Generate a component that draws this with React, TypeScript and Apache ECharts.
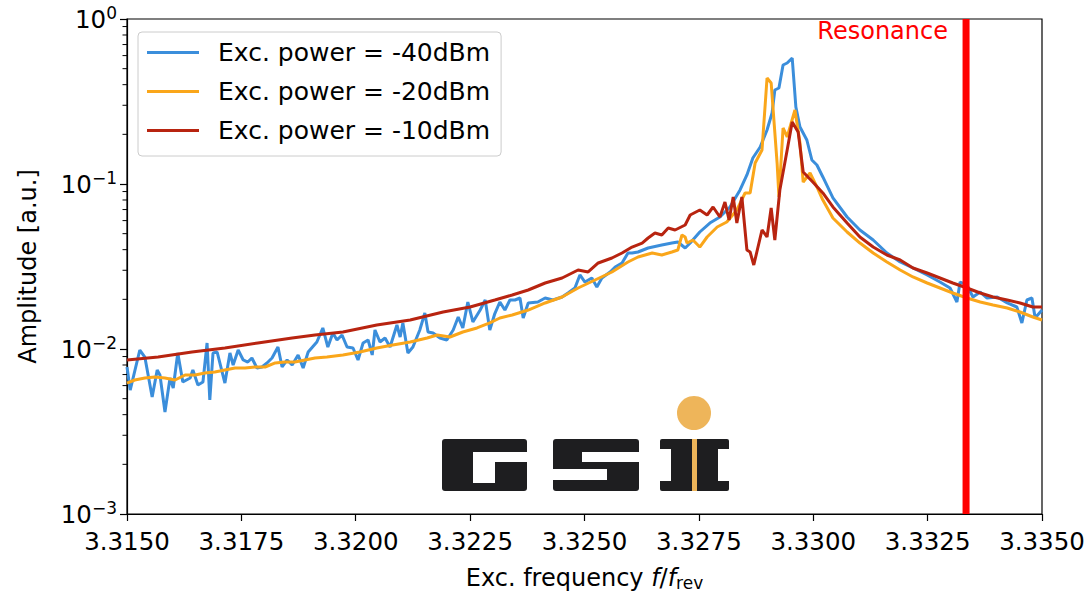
import React, { useEffect, useRef } from "react";
import * as echarts from "echarts";

const seriesNames = ["Exc. power = -40dBm", "Exc. power = -20dBm", "Exc. power = -10dBm"];
const seriesColors = ["#3B8EDB", "#FAA61A", "#B82410"];

const xTicks = { min: 3.315, max: 3.335, step: 0.0025 };
const yRange = { min: 0.001, max: 1 };
const minorTickValues = [
  0.002, 0.003, 0.004, 0.005, 0.006, 0.007, 0.008, 0.009,
  0.02, 0.03, 0.04, 0.05, 0.06, 0.07, 0.08, 0.09,
  0.2, 0.3, 0.4, 0.5, 0.6, 0.7, 0.8, 0.9,
];
const RESONANCE = 3.33334;

const freqBlue = [
  3.315, 3.31507, 3.31528, 3.31539, 3.31555, 3.31566, 3.31572, 3.31583, 3.31594, 3.31601,
  3.31611, 3.31622, 3.31638, 3.31644, 3.31655, 3.31666, 3.31675, 3.31681, 3.31688, 3.31697,
  3.31708, 3.31714, 3.31725, 3.31732, 3.31743, 3.31754, 3.31764, 3.31773, 3.31784, 3.31795,
  3.31806, 3.31817, 3.3183, 3.31839, 3.3185, 3.31861, 3.31874, 3.31885, 3.31896, 3.31915,
  3.31928, 3.31939, 3.3195, 3.31959, 3.3197, 3.31981, 3.31994, 3.32005, 3.32016, 3.32027,
  3.32036, 3.32042, 3.32053, 3.32064, 3.32075, 3.3209, 3.32097, 3.32103, 3.32114, 3.32125,
  3.3214, 3.32151, 3.32158, 3.32169, 3.32184, 3.32199, 3.32213, 3.32224, 3.32234, 3.32245,
  3.32256, 3.32272, 3.32283, 3.32293, 3.32304, 3.32315, 3.32326, 3.32337, 3.32348, 3.32359,
  3.32366, 3.32377, 3.32398, 3.32414, 3.32431, 3.32451, 3.32464, 3.32479, 3.3249, 3.32501,
  3.32516, 3.32527, 3.32538, 3.32556, 3.32567, 3.32582, 3.32595, 3.32604, 3.32617, 3.32639,
  3.32669, 3.32691, 3.32704, 3.3272, 3.32731, 3.32752, 3.32774, 3.32796, 3.32818, 3.3284,
  3.32855, 3.32868, 3.32884, 3.32899, 3.3291, 3.32916, 3.32925, 3.32934, 3.32943, 3.32954,
  3.32962, 3.32971, 3.32986, 3.32997, 3.33008, 3.33021, 3.33043, 3.33074, 3.33102, 3.33131,
  3.33161, 3.3319, 3.33218, 3.33249, 3.33277, 3.33299, 3.33314, 3.33321, 3.33336, 3.33349,
  3.33365, 3.3338, 3.33402, 3.33424, 3.33445, 3.33456, 3.33467, 3.33478, 3.33485, 3.335,
];
const ampBlue = [
  0.00778, 0.00564, 0.00986, 0.00894, 0.00512, 0.00746, 0.00696, 0.00415, 0.00667, 0.0058,
  0.00946, 0.00631, 0.00667, 0.00746, 0.00605, 0.00631, 0.01087, 0.00491, 0.00946, 0.00959,
  0.00725, 0.00622, 0.00946, 0.008, 0.00986, 0.00858, 0.00834, 0.00882, 0.00767, 0.00778,
  0.00823, 0.00882, 0.01028, 0.00778, 0.00858, 0.008, 0.0092, 0.00767, 0.00959, 0.01103,
  0.01341, 0.01028, 0.0125, 0.01134, 0.01216, 0.01028, 0.01014, 0.00858, 0.01087, 0.01134,
  0.0092, 0.01304, 0.01103, 0.01166, 0.01028, 0.01398, 0.01182, 0.01438, 0.00946, 0.01028,
  0.01304, 0.01653, 0.01268, 0.0125, 0.01166, 0.01134, 0.01304, 0.01563, 0.01341, 0.01927,
  0.01458, 0.01723, 0.01982, 0.01304, 0.0164, 0.01927, 0.01723, 0.01982, 0.01982, 0.02037,
  0.01541, 0.01901, 0.01927, 0.02037, 0.01982, 0.02066, 0.02185, 0.02343, 0.02809, 0.02547,
  0.02694, 0.02375, 0.02694, 0.02929, 0.03141, 0.03321, 0.03817, 0.03817, 0.03871, 0.04094,
  0.04269, 0.04388, 0.04452, 0.04094, 0.04388, 0.05118, 0.05802, 0.0631, 0.07256, 0.09197,
  0.1134, 0.1438, 0.1676, 0.2125, 0.2694, 0.3712, 0.3817, 0.5263, 0.5412, 0.5802,
  0.2929, 0.2215, 0.1848, 0.1398, 0.1304, 0.1103, 0.0823, 0.0631, 0.05263, 0.04576,
  0.03817, 0.03367, 0.03097, 0.02809, 0.02547, 0.02343, 0.01927, 0.02547, 0.02443, 0.02066,
  0.02215, 0.02037, 0.02066, 0.01901, 0.01797, 0.01438, 0.01982, 0.02037, 0.01541, 0.01723,
];

const freqOrange = [
  3.315, 3.31517, 3.31539, 3.31561, 3.31583, 3.31605, 3.31627, 3.31649, 3.3167, 3.31692,
  3.31714, 3.31736, 3.31758, 3.3178, 3.31802, 3.31824, 3.31845, 3.31867, 3.31889, 3.31911,
  3.31937, 3.31972, 3.32009, 3.32046, 3.32081, 3.32119, 3.32156, 3.32178, 3.32206, 3.32234,
  3.32265, 3.32293, 3.32315, 3.32342, 3.32377, 3.32414, 3.32451, 3.32486, 3.32523, 3.3256,
  3.32595, 3.32617, 3.32648, 3.32669, 3.32691, 3.32704, 3.32713, 3.3272, 3.32724, 3.32737,
  3.32752, 3.32768, 3.3279, 3.32811, 3.32833, 3.32851, 3.32862, 3.32873, 3.32888, 3.32899,
  3.32908, 3.32921, 3.32925, 3.32934, 3.32943, 3.3296, 3.32971, 3.32978, 3.32993, 3.33008,
  3.33021, 3.33043, 3.33074, 3.33102, 3.33131, 3.33161, 3.3319, 3.33218, 3.33249, 3.33277,
  3.33305, 3.33336, 3.33365, 3.33393, 3.33424, 3.33452, 3.3348, 3.335,
];
const ampOrange = [
  0.00622, 0.00649, 0.00667, 0.00677, 0.00667, 0.00649, 0.00696, 0.00696, 0.00715, 0.00725,
  0.00746, 0.00767, 0.00767, 0.00778, 0.00778, 0.00823, 0.00834, 0.00834, 0.00858, 0.00882,
  0.00894, 0.0092, 0.00959, 0.01014, 0.01057, 0.01103, 0.01166, 0.01216, 0.01182, 0.01268,
  0.01341, 0.01438, 0.01541, 0.01607, 0.01723, 0.01901, 0.02066, 0.02343, 0.02619, 0.02929,
  0.03367, 0.0361, 0.03817, 0.03713, 0.03871, 0.03981, 0.04908, 0.04773, 0.04388, 0.04576,
  0.0415, 0.04773, 0.05487, 0.05884, 0.06959, 0.0882, 0.0882, 0.134, 0.1607, 0.4389,
  0.4093, 0.134, 0.08341, 0.2185, 0.1927, 0.2809, 0.1772, 0.1028, 0.1166, 0.0959,
  0.07998, 0.06221, 0.05118, 0.04388, 0.03817, 0.03367, 0.03012, 0.02732, 0.02512, 0.02343,
  0.02185, 0.02037, 0.01927, 0.01848, 0.01772, 0.01676, 0.01563, 0.01499,
];

const freqRed = [
  3.315, 3.31568, 3.31642, 3.31714, 3.31786, 3.31861, 3.31911, 3.31972, 3.32046, 3.32119,
  3.32191, 3.3225, 3.32304, 3.32342, 3.32377, 3.32414, 3.32451, 3.32486, 3.32508, 3.3253,
  3.3256, 3.32582, 3.32604, 3.32626, 3.32639, 3.32654, 3.32669, 3.32683, 3.32698, 3.3272,
  3.32731, 3.32752, 3.32768, 3.32781, 3.32796, 3.32807, 3.32816, 3.32825, 3.32833, 3.32844,
  3.32855, 3.32862, 3.3287, 3.32888, 3.32899, 3.32908, 3.32916, 3.32927, 3.32943, 3.32954,
  3.32967, 3.32978, 3.32999, 3.33021, 3.33043, 3.33074, 3.33102, 3.33131, 3.33161, 3.3319,
  3.33218, 3.33249, 3.33277, 3.33305, 3.33336, 3.33365, 3.33393, 3.33424, 3.33452, 3.3348,
  3.335,
];
const ampRed = [
  0.00858, 0.00894, 0.00959, 0.01014, 0.01087, 0.01166, 0.01216, 0.01268, 0.01398, 0.01499,
  0.01676, 0.01797, 0.01982, 0.02125, 0.02278, 0.02512, 0.02694, 0.03012, 0.02929, 0.03321,
  0.03559, 0.03817, 0.0415, 0.04388, 0.04706, 0.05047, 0.04908, 0.05412, 0.05263, 0.05643,
  0.06488, 0.06959, 0.06488, 0.07256, 0.0631, 0.07779, 0.06049, 0.08341, 0.05802, 0.08341,
  0.03981, 0.03871, 0.03229, 0.05263, 0.04773, 0.07154, 0.04576, 0.09197, 0.1607, 0.2375,
  0.2066, 0.1182, 0.1028, 0.0882, 0.07256, 0.05802, 0.04773, 0.0415, 0.03713, 0.03463,
  0.03097, 0.02888, 0.02694, 0.02512, 0.02343, 0.02185, 0.02066, 0.01982, 0.01901, 0.01797,
  0.01797,
];

const FONT = "DejaVu Sans";
const LOGO_BLACK = "#1e1e20";
const LOGO_ORANGE = "#EEB55A";

export default function App() {
  const ref = useRef<HTMLDivElement>(null);

  useEffect(() => {
    if (!ref.current) return;
    const chart = echarts.init(ref.current, null, { renderer: "svg" });
    const pairs = (f: number[], a: number[]) => f.map((x, i) => [x, a[i]]);
    const dataSets = [pairs(freqBlue, ampBlue), pairs(freqOrange, ampOrange), pairs(freqRed, ampRed)];

    const logo: any[] = [
      // G
      { type: "rect", shape: { x: 442, y: 439, width: 85, height: 52, r: 3 }, style: { fill: LOGO_BLACK } },
      { type: "rect", shape: { x: 473, y: 452, width: 54, height: 10 }, style: { fill: "#fff" } },
      { type: "rect", shape: { x: 473, y: 462, width: 22, height: 21 }, style: { fill: "#fff" } },
      // S
      { type: "rect", shape: { x: 553, y: 439, width: 86, height: 52, r: 3 }, style: { fill: LOGO_BLACK } },
      { type: "rect", shape: { x: 582, y: 452, width: 57, height: 10 }, style: { fill: "#fff" } },
      { type: "rect", shape: { x: 553, y: 469, width: 54, height: 11 }, style: { fill: "#fff" } },
      // I
      { type: "rect", shape: { x: 660, y: 439, width: 69, height: 52, r: 2 }, style: { fill: LOGO_BLACK } },
      { type: "rect", shape: { x: 660, y: 449, width: 11, height: 32 }, style: { fill: "#fff" } },
      { type: "rect", shape: { x: 718, y: 449, width: 11, height: 32 }, style: { fill: "#fff" } },
      { type: "rect", shape: { x: 692, y: 439, width: 5, height: 52 }, style: { fill: LOGO_ORANGE } },
      { type: "circle", shape: { cx: 694, cy: 413, r: 17 }, style: { fill: LOGO_ORANGE } },
    ];

    const resonanceLabel = {
      type: "text",
      x: 948,
      y: 31,
      style: {
        text: "Resonance",
        fill: "#ff0000",
        fontSize: 24,
        fontFamily: FONT,
        align: "right",
        verticalAlign: "middle",
      },
    };

    chart.setOption({
      animation: false,
      textStyle: { fontFamily: FONT },
      grid: {
        left: 127, right: 47, top: 19, bottom: 80,
        containLabel: false,
        outerBoundsMode: "none",
        show: true, borderColor: "#000", borderWidth: 1.2, backgroundColor: "transparent",
      },
      legend: {
        data: seriesNames,
        orient: "vertical",
        left: 138,
        top: 32,
        padding: [8, 11, 13, 9],
        itemGap: 14,
        itemWidth: 52,
        itemHeight: 3,
        icon: "rect",
        backgroundColor: "rgba(255,255,255,0.8)",
        borderColor: "#cccccc",
        borderWidth: 1,
        borderRadius: 4,
        textStyle: { fontSize: 25, fontFamily: FONT, color: "#000", lineHeight: 24, padding: [0, 0, 0, 14] },
      },
      xAxis: {
        type: "value",
        min: xTicks.min,
        max: xTicks.max,
        interval: xTicks.step,
        axisLine: { show: true, onZero: false, lineStyle: { color: "#000", width: 1.2 } },
        axisTick: { show: true, inside: false, length: 7, lineStyle: { color: "#000", width: 1.2 } },
        axisLabel: { formatter: (v: number) => v.toFixed(4), fontSize: 24.5, color: "#000", margin: 15, fontFamily: FONT },
        splitLine: { show: false },
        name: "{n|Exc. frequency }{i|f}{n|/}{i|f}{s|rev}",
        nameLocation: "middle",
        nameGap: 51,
        nameTextStyle: {
          color: "#000",
          fontSize: 24,
          rich: {
            n: { fontSize: 24, color: "#000", fontFamily: FONT },
            i: { fontSize: 24, color: "#000", fontStyle: "italic", fontFamily: FONT },
            s: { fontSize: 17, color: "#000", fontFamily: FONT, padding: [9, 0, 0, 0] },
          },
        },
      },
      yAxis: {
        type: "log",
        logBase: 10,
        min: yRange.min,
        max: yRange.max,
        axisLine: { show: true, lineStyle: { color: "#000", width: 1.2 } },
        axisTick: { show: true, inside: false, length: 7, lineStyle: { color: "#000", width: 1.2 } },
        axisLabel: {
          margin: 10,
          color: "#000",
          formatter: (v: number) => {
            const e = Math.round(Math.log10(v));
            return "{b|10}{s|" + (e < 0 ? "\u2212" + -e : String(e)) + "}";
          },
          rich: {
            b: { fontSize: 24.5, color: "#000", fontFamily: FONT },
            s: { fontSize: 17, color: "#000", fontFamily: FONT, padding: [0, 0, 12, 0] },
          },
        },
        splitLine: { show: false },
        name: "Amplitude [a.u.]",
        nameLocation: "middle",
        nameGap: 87,
        nameTextStyle: { fontSize: 24, color: "#000", fontFamily: FONT },
      },
      series: [
        ...dataSets.map((d, i) => ({
          name: seriesNames[i],
          type: "line",
          data: d,
          symbol: "none",
          showSymbol: false,
          color: seriesColors[i],
          lineStyle: { width: 3, color: seriesColors[i] },
          z: 2 + i,
        })),
        {
          name: "Resonance",
          type: "line",
          data: [[RESONANCE, yRange.min], [RESONANCE, yRange.max]],
          symbol: "none",
          lineStyle: { width: 7, color: "#ff0000" },
          color: "#ff0000",
          z: 10,
          silent: true,
        },
      ],
      graphic: [...logo, resonanceLabel],
    });

    // minor ticks of the log axis, placed through the axis scale
    const x0 = chart.convertToPixel({ xAxisIndex: 0 }, xTicks.min) as number;
    const minorTicks = minorTickValues.map((v) => {
      const y = chart.convertToPixel({ yAxisIndex: 0 }, v) as number;
      return {
        type: "line",
        shape: { x1: x0 - 4.5, y1: y, x2: x0, y2: y },
        style: { stroke: "#000", lineWidth: 1 },
        z: 5,
      };
    });
    chart.setOption({ graphic: [...logo, resonanceLabel, ...minorTicks] }, { replaceMerge: ["graphic"] });

    return () => chart.dispose();
  }, []);

  return <div ref={ref} style={{ position: "absolute", left: 0, top: 0, width: 1089, height: 594 }} />;
}
